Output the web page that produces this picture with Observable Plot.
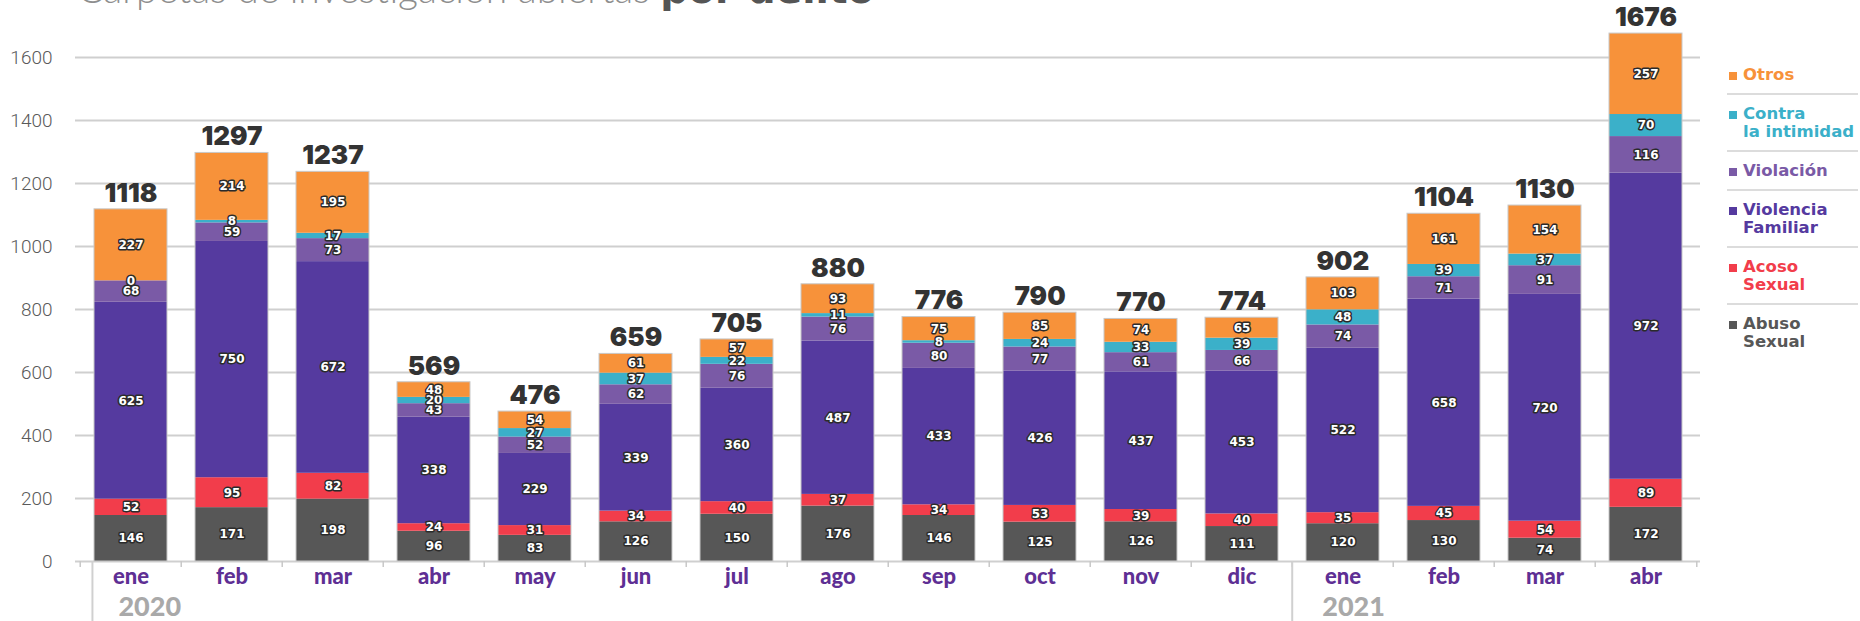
<!DOCTYPE html>
<html>
<head>
<meta charset="utf-8">
<script src="https://cdn.jsdelivr.net/npm/d3@7"></script>
<script src="https://cdn.jsdelivr.net/npm/@observablehq/plot@0.6"></script>
<style>
  html, body { margin: 0; padding: 0; background: #fff; overflow: hidden; }
  #wrap { position: relative; width: 1860px; height: 621px; overflow: hidden; }
  #title { position: absolute; left: 77px; top: -31px; font-family: Lato, sans-serif; font-size: 39px; line-height: 39px; white-space: nowrap; color: #8e8e8e; font-weight: 300; }
  #title b { font-family: "DejaVu Sans", sans-serif; font-weight: 700; color: #555; }
  #legend { position: absolute; left: 1727px; top: 56px; width: 131px; font-family: "DejaVu Sans", sans-serif; font-weight: 700; font-size: 16.5px; line-height: 18px; }
  #legend .item { position: relative; padding: 10px 0 9px 16px; border-bottom: 2px solid #dcdcdc; white-space: nowrap; }
  #legend .item:last-child { border-bottom: none; }
  #legend .sw { position: absolute; left: 2px; top: 16px; width: 8px; height: 8px; }
  #chart { position: absolute; left: 0; top: 0; }
</style>
</head>
<body>
<div id="wrap">
  <div id="chart"></div>
  <div id="title">Carpetas de investigación abiertas <b>por delito</b></div>
  <div id="legend"></div>
</div>
<script>
// ---- data ----
const months = ["ene","feb","mar","abr","may","jun","jul","ago","sep","oct","nov","dic","ene","feb","mar","abr"];
const years  = [2020,2020,2020,2020,2020,2020,2020,2020,2020,2020,2020,2020,2021,2021,2021,2021];
const series = ["Abuso Sexual","Acoso Sexual","Violencia Familiar","Violación","Contra la intimidad","Otros"];
const seriesColors = ["#575757","#f23d4b","#553a9f","#7a5aa6","#3bb0c9","#f7923a"];
const abusoSexual       = [146,171,198,96,83,126,150,176,146,125,126,111,120,130,74,172];
const acosoSexual       = [52,95,82,24,31,34,40,37,34,53,39,40,35,45,54,89];
const violenciaFamiliar = [625,750,672,338,229,339,360,487,433,426,437,453,522,658,720,972];
const violacion         = [68,59,73,43,52,62,76,76,80,77,61,66,74,71,91,116];
const contraIntimidad   = [0,8,17,20,27,37,22,11,8,24,33,39,48,39,37,70];
const otros             = [227,214,195,48,54,61,57,93,75,85,74,65,103,161,154,257];
const totals            = [1118,1297,1237,569,476,659,705,880,776,790,770,774,902,1104,1130,1676];
const yTicks = [0,200,400,600,800,1000,1200,1400,1600];
const yearLabels = ["2020","2021"];
const legendLabels = [["Otros"],["Contra","la intimidad"],["Violación"],["Violencia","Familiar"],["Acoso","Sexual"],["Abuso","Sexual"]];

// ---- tables built from arrays ----
const keys = months.map((m, i) => `${m} ${years[i]}`);
const values = [abusoSexual, acosoSexual, violenciaFamiliar, violacion, contraIntimidad, otros];
const data = series.flatMap((s, si) => keys.map((k, i) => ({key: k, series: s, value: values[si][i]})));
const totalData = keys.map((k, i) => ({key: k, total: totals[i]}));
const yearStarts = years.map((y, i) => i === 0 || years[i - 1] !== y ? keys[i] : null).filter(d => d);

// ---- layout ----
const W = 1860, H = 621, mL = 75, mR = 160, mT = 57, mB = 60;
const padInner = 0.28;
const step = (W - mL - mR) / keys.length;
const bw = step * (1 - padInner);

const chart = Plot.plot({
  width: W, height: H,
  marginLeft: mL, marginRight: mR, marginTop: mT, marginBottom: mB,
  style: {background: "transparent", overflow: "visible"},
  x: {domain: keys, paddingInner: padInner, paddingOuter: padInner / 2},
  y: {domain: [0, 1600]},
  color: {domain: series, range: seriesColors},
  marks: [
    Plot.gridY(yTicks, {stroke: "#cfcfcf", strokeOpacity: 1, strokeWidth: 2}),
    Plot.axisY(yTicks, {tickSize: 0, tickPadding: 23, fontSize: 19, fontFamily: "Roboto", fontWeight: 300, fill: "#5a5a5a", label: null, tickFormat: d => String(d)}),
    Plot.barY(data, Plot.stackY({x: "key", y: "value", fill: "series", order: series})),
    Plot.barY(totalData, {x: "key", y: "total", fill: "none", stroke: "#c8c8c8", strokeWidth: 1}),
    Plot.text(data, Plot.stackY({x: "key", y: "value", z: "series", order: series, text: d => String(d.value),
      fill: "white", stroke: "#2b2b2b", strokeWidth: 3, fontSize: 12, fontFamily: "DejaVu Sans", fontWeight: 700})),
    Plot.text(totalData, {x: "key", y: "total", text: d => String(d.total), dy: -16, fontSize: 26, fontFamily: "Inter", fontWeight: 900, fill: "#333"}),
    // band boundary ticks under the axis
    Plot.ruleX(keys, {x: d => d, y1: 0, y2: 0, insetBottom: -6, dx: -step / 2, stroke: "#c8c8c8", strokeWidth: 1.5}),
    Plot.ruleX(keys.slice(-1), {x: d => d, y1: 0, y2: 0, insetBottom: -6, dx: step / 2, stroke: "#c8c8c8", strokeWidth: 1.5}),
    // year separators
    Plot.ruleX(yearStarts.slice(0, 1), {x: d => d, y1: 0, y2: 0, insetBottom: -60, dx: -bw / 2 - 2, stroke: "#d0d0d0", strokeWidth: 2}),
    Plot.ruleX(yearStarts.slice(1), {x: d => d, y1: 0, y2: 0, insetBottom: -60, dx: -step / 2, stroke: "#d0d0d0", strokeWidth: 2}),
    Plot.axisX({tickSize: 0, tickPadding: 7, fontSize: 22, fontFamily: "Lato", fontWeight: 900, fill: "#5e2f94",
      tickFormat: d => d.split(" ")[0], label: null}),
    Plot.text(yearStarts.slice(0, 1), {x: d => d, y: () => 0, text: () => yearLabels[0], dx: -bw / 2 + 24, dy: 46, textAnchor: "start",
      fontSize: 27, fontFamily: "Lato", fontWeight: 900, fill: "#a9a9a9"}),
    Plot.text(yearStarts.slice(1), {x: d => d, y: () => 0, text: () => yearLabels[1], dx: -step / 2 + 30, dy: 46, textAnchor: "start",
      fontSize: 27, fontFamily: "Lato", fontWeight: 900, fill: "#a9a9a9"})
  ]
});
document.getElementById("chart").appendChild(chart);

// ---- legend (top to bottom = reverse stacking order) ----
const legend = document.getElementById("legend");
const order = series.map((s, i) => i).reverse();
order.forEach((si, j) => {
  const item = document.createElement("div");
  item.className = "item";
  item.style.color = seriesColors[si];
  const sw = document.createElement("span");
  sw.className = "sw";
  sw.style.background = seriesColors[si];
  item.appendChild(sw);
  legendLabels[j].forEach((line, li) => {
    if (li) item.appendChild(document.createElement("br"));
    item.appendChild(document.createTextNode(line));
  });
  legend.appendChild(item);
});
</script>
</body>
</html>
